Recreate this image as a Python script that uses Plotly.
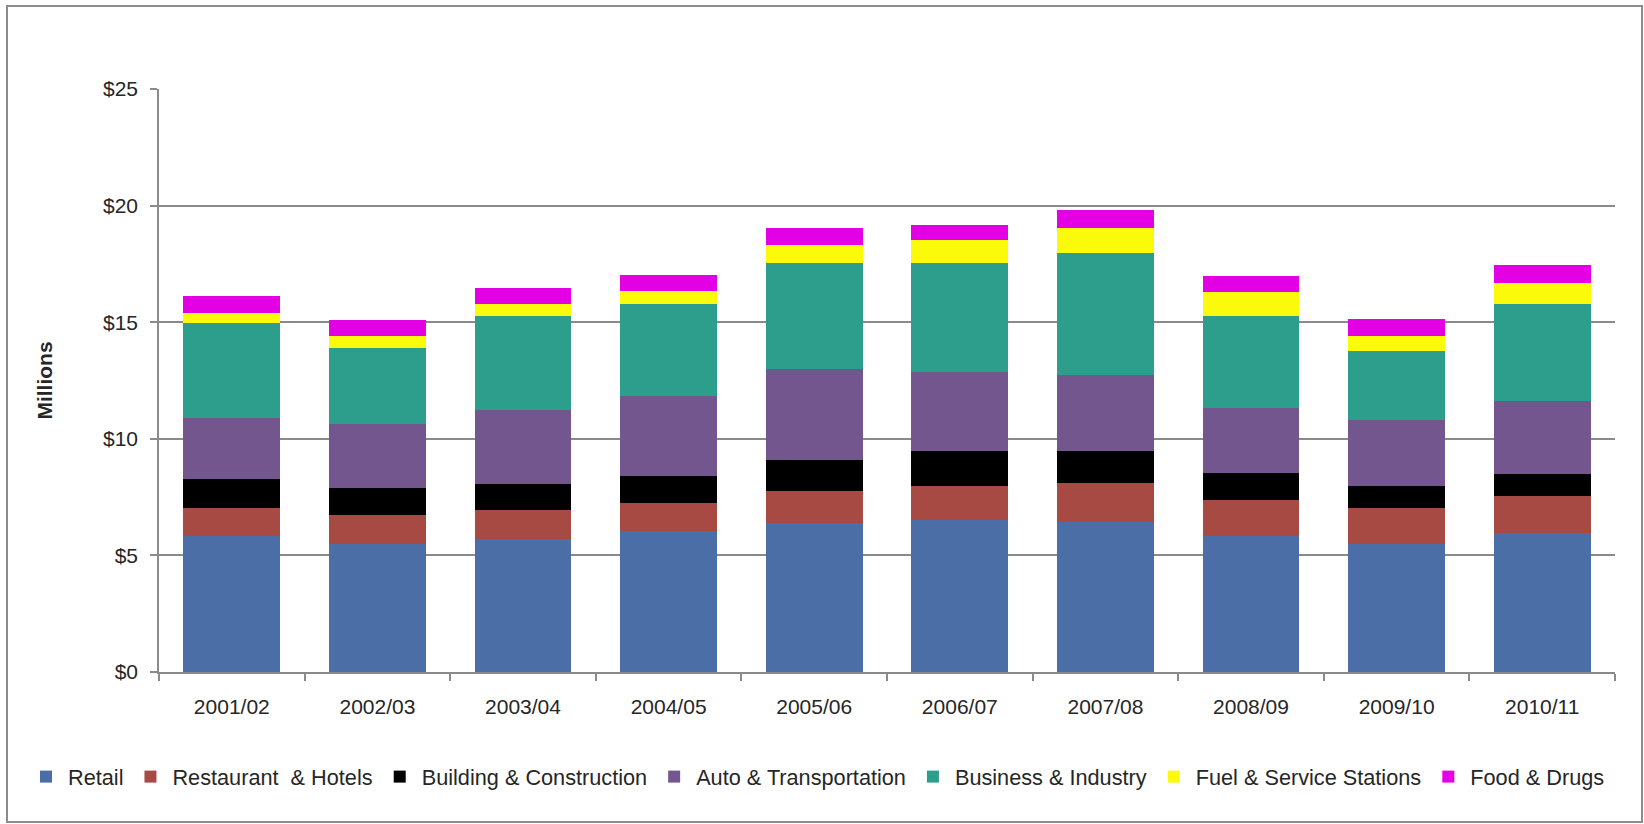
import plotly.graph_objects as go

# Fiscal years on the x axis
years = ["2001/02", "2002/03", "2003/04", "2004/05", "2005/06",
         "2006/07", "2007/08", "2008/09", "2009/10", "2010/11"]

# Segment values per sector, in millions of dollars (stacked bottom to top)
retail = [5.82, 5.51, 5.70, 6.04, 6.39, 6.53, 6.44, 5.82, 5.51, 5.95]
restaurant_hotels = [1.20, 1.23, 1.25, 1.19, 1.38, 1.43, 1.68, 1.57, 1.51, 1.59]
building_construction = [1.24, 1.17, 1.10, 1.17, 1.34, 1.50, 1.34, 1.15, 0.96, 0.93]
auto_transportation = [2.62, 2.72, 3.20, 3.42, 3.87, 3.40, 3.28, 2.78, 2.84, 3.14]
business_industry = [4.07, 3.26, 4.00, 3.95, 4.56, 4.68, 5.21, 3.93, 2.93, 4.16]
fuel_service = [0.44, 0.50, 0.52, 0.58, 0.79, 0.97, 1.10, 1.05, 0.64, 0.93]
food_drugs = [0.72, 0.70, 0.69, 0.67, 0.71, 0.67, 0.77, 0.66, 0.75, 0.76]

series_names = ["Retail", "Restaurant  & Hotels", "Building & Construction",
                "Auto & Transportation", "Business & Industry",
                "Fuel & Service Stations", "Food & Drugs"]
series_values = [retail, restaurant_hotels, building_construction,
                 auto_transportation, business_industry, fuel_service, food_drugs]
series_colors = ["#4A6EA5", "#A84A44", "#000000", "#74568E",
                 "#2E9E8C", "#FAFA0A", "#E400E4"]

y_ticks = [0, 5, 10, 15, 20, 25]

W, H = 1644, 824
M_L, M_R, M_T, M_B = 159, 29, 89, 152
FONT = "Liberation Sans, Arial, sans-serif"
TEXT = "#262626"
GRID = "#8a8a8a"

fig = go.Figure()
for name, vals, col in zip(series_names, series_values, series_colors):
    fig.add_trace(go.Bar(
        x=years, y=vals, name=name,
        marker=dict(color=col, line=dict(width=0)),
    ))

pw = W - M_L - M_R
ph = H - M_T - M_B

# thin frame around the whole chart area
fx0, fx1 = 7, 1642
fy0, fy1 = 6, 822
fig.add_shape(
    type="rect", xref="paper", yref="paper",
    x0=(fx0 - M_L) / pw, x1=(fx1 - M_L) / pw,
    y0=(H - M_B - fy1) / ph, y1=(H - M_B - fy0) / ph,
    line=dict(color="#8c8c8c", width=2), fillcolor="rgba(0,0,0,0)",
    layer="below",
)

# legend row below the plot, in pixel terms converted to paper units
legend_left_px = 24
legend_mid_px = 777

fig.update_layout(
    width=W, height=H,
    barmode="stack",
    bargap=0.334,
    margin=dict(l=M_L, r=M_R, t=M_T, b=M_B, autoexpand=False),
    paper_bgcolor="white",
    plot_bgcolor="white",
    font=dict(family=FONT, size=21, color=TEXT),
    showlegend=True,
    legend=dict(
        orientation="h",
        traceorder="normal",
        xref="paper", yref="paper",
        x=(legend_left_px - M_L) / pw, xanchor="left",
        y=(H - M_B - legend_mid_px) / ph, yanchor="middle",
        font=dict(family=FONT, size=21.7, color=TEXT),
        itemwidth=34,
        bgcolor="rgba(0,0,0,0)",
    ),
    xaxis=dict(
        type="category",
        showgrid=False,
        showline=True, linecolor=GRID, linewidth=1.6,
        ticks="outside", tickson="boundaries", ticklen=7,
        tickcolor=GRID, tickwidth=1.6,
        tickfont=dict(family=FONT, size=21, color=TEXT),
        ticklabelstandoff=15,
        automargin=False,
    ),
    yaxis=dict(
        range=[0, 25],
        tickvals=y_ticks,
        ticktext=[f"${v}" for v in y_ticks],
        showgrid=True, gridcolor=GRID, gridwidth=1.6,
        showline=True, linecolor=GRID, linewidth=1.6,
        zeroline=False,
        ticks="outside", ticklen=7, tickcolor=GRID, tickwidth=1.6,
        tickfont=dict(family=FONT, size=21, color=TEXT),
        ticklabelstandoff=8,
        title=dict(text="<b>Millions</b>",
                   font=dict(family=FONT, size=21, color=TEXT),
                   standoff=45),
        automargin=False,
    ),
)

fig.write_html("out.html")
